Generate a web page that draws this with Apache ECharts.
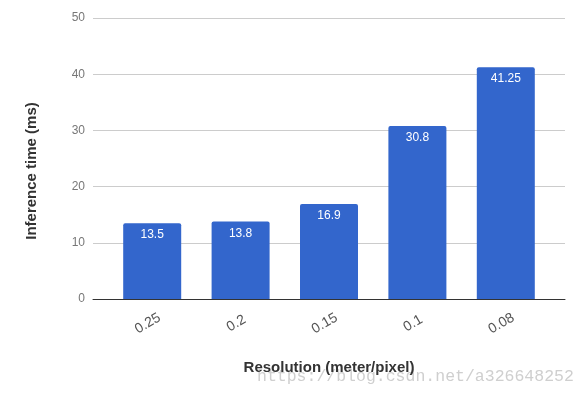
<!DOCTYPE html>
<html>
<head>
<meta charset="utf-8">
<script src="https://cdn.jsdelivr.net/npm/echarts@6/dist/echarts.min.js"></script>
<style>html,body{margin:0;padding:0;background:#fff;}#c{width:588px;height:397px;}</style>
</head>
<body>
<div id="c"></div>
<script>
const categories = ['0.25', '0.2', '0.15', '0.1', '0.08'];
const inferenceTime = [13.5, 13.8, 16.9, 30.8, 41.25];
const yTicks = [0, 10, 20, 30, 40, 50];

const chart = echarts.init(document.getElementById('c'), null, {renderer: 'canvas'});
const font = 'Liberation Sans, Arial, sans-serif';
chart.setOption({
  animation: false,
  backgroundColor: '#fff',
  grid: [
    {left: 93, right: 23, top: 18, bottom: 98},
    {left: 108, right: 38, top: 18, bottom: 98}
  ],
  xAxis: [
    {
      gridIndex: 0, type: 'category', data: categories,
      axisLine: {show: true, lineStyle: {color: '#333', width: 1}},
      axisTick: {show: false}, axisLabel: {show: false},
      name: 'Resolution (meter/pixel)', nameLocation: 'middle', nameGap: 61,
      nameTextStyle: {fontFamily: font, fontSize: 15, fontWeight: 'bold', color: '#333'}
    },
    {
      gridIndex: 1, type: 'category', data: categories,
      axisLine: {show: false}, axisTick: {show: false},
      axisLabel: {
        rotate: 30, align: 'center', verticalAlign: 'middle', margin: 22,
        padding: [0, 10, 0, 0],
        fontFamily: font, fontSize: 14, color: '#555'
      }
    }
  ],
  yAxis: [
    {
      gridIndex: 0, type: 'value', min: yTicks[0], max: yTicks[yTicks.length - 1], interval: 10,
      axisLine: {show: false}, axisTick: {show: false},
      axisLabel: {margin: 8, fontFamily: font, fontSize: 12, color: '#777'},
      splitLine: {lineStyle: {color: '#ccc', width: 1}}
    },
    {
      gridIndex: 1, type: 'value', min: yTicks[0], max: yTicks[yTicks.length - 1], interval: 10,
      show: false, splitLine: {show: false}
    }
  ],
  graphic: [
    {
      type: 'text', x: 32, y: 171, rotation: Math.PI / 2,
      style: {text: 'Inference time (ms)', fontFamily: font, fontSize: 15, fontWeight: 'bold',
        fill: '#333', align: 'center', verticalAlign: 'middle'}
    },
    {
      type: 'text', x: 257, y: 377,
      style: {text: 'https://blog.csdn.net/a326648252', fontFamily: 'Liberation Mono, monospace',
        fontSize: 16.5, fill: '#cfcfcf', align: 'left', verticalAlign: 'middle'}
    }
  ],
  series: [{
    type: 'bar', xAxisIndex: 1, yAxisIndex: 1,
    data: inferenceTime, barWidth: 58,
    itemStyle: {color: '#3366cc', borderRadius: [2, 2, 0, 0]},
    label: {show: true, position: 'insideTop', distance: 6, color: '#fff',
      fontFamily: font, fontSize: 12}
  }]
});
</script>
</body>
</html>
